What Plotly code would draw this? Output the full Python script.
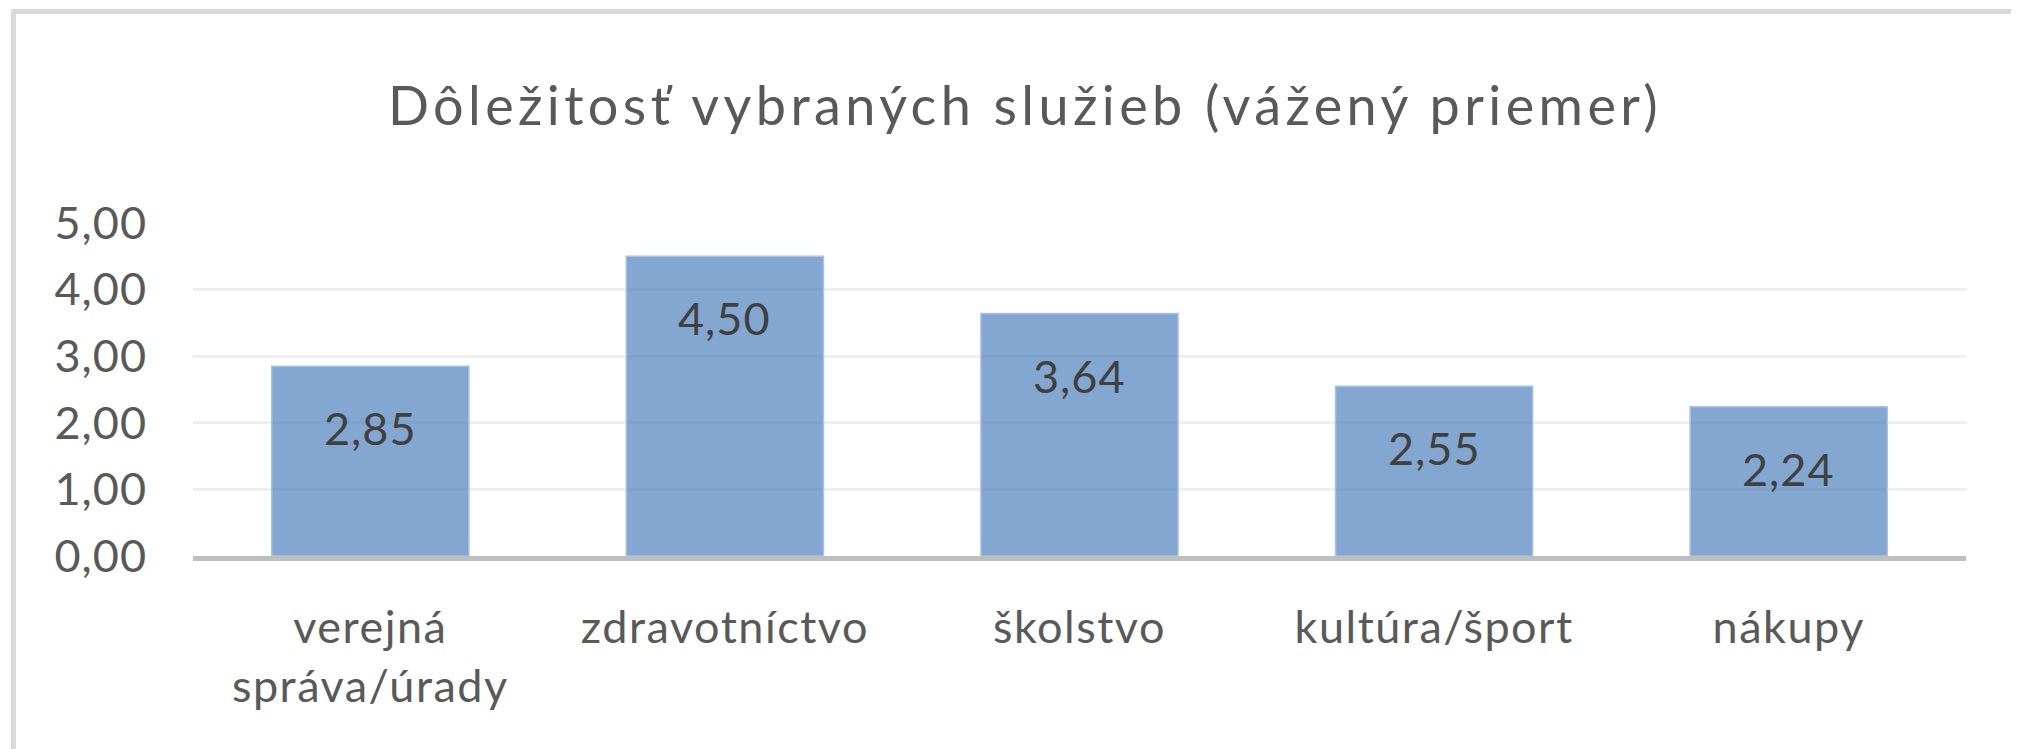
import plotly.graph_objects as go

# Importance of selected services (weighted average)
categories = ['verejná<br>správa/úrady', 'zdravotníctvo', 'školstvo', 'kultúra/šport', 'nákupy']
values = [2.85, 4.50, 3.64, 2.55, 2.24]
y_ticks = [0, 1, 2, 3, 4, 5]
y_tick_labels = ['0,00', '1,00', '2,00', '3,00', '4,00', '5,00']

W, H = 2019, 749
OFF = 8  # page body margin pushes the figure right/down
M_L, M_R, M_T, M_B = 193 - OFF, 53 + OFF, 223 - OFF, 193 + OFF
FONT = 'Lato'


def spaced(txt, px):
    return f'<span style="letter-spacing:{px}px">{txt}</span>'


fig = go.Figure()
fig.add_trace(go.Bar(
    x=categories,
    y=values,
    marker=dict(color='rgba(79,129,189,0.7)', line=dict(color='#a9c2e0', width=1.5)),
    hoverinfo='skip',
))

# data labels sit a little below each bar top
for cat, val in zip(categories, values):
    fig.add_annotation(x=cat, y=val, text=spaced(f'{val:.2f}'.replace('.', ','), 1),
                       showarrow=False, yanchor='middle', yshift=-62,
                       font=dict(family=FONT, size=45, color='#404040'))

# outer chart border (only left and top visible in the crop)
pw, ph = W - M_L - M_R, H - M_T - M_B
fig.add_shape(type='rect', xref='paper', yref='paper',
              x0=(13.5 - OFF - M_L) / pw, x1=(W + 20 - M_L) / pw,
              y0=(H - M_B - (H + 20)) / ph, y1=(H - M_B - (11.5 - OFF)) / ph,
              line=dict(color='#d9d9d9', width=5), fillcolor='rgba(0,0,0,0)', layer='below')

fig.update_layout(
    width=W, height=H,
    margin=dict(l=M_L, r=M_R, t=M_T, b=M_B, autoexpand=False),
    paper_bgcolor='white', plot_bgcolor='white',
    bargap=0.444,
    showlegend=False,
    title=dict(text=spaced('Dôležitosť vybraných služieb (vážený priemer)', 4.4),
               x=(1025 - OFF) / W, xanchor='center', y=1 - (106 - OFF) / H, yanchor='middle',
               font=dict(family=FONT, size=54, color='#595959')),
)
fig.update_yaxes(range=[0, 5], tickvals=y_ticks, ticktext=[spaced(t, 1) for t in y_tick_labels],
                 showgrid=True, gridcolor='#efefef', gridwidth=3, zeroline=False,
                 ticklabelstandoff=45, tickfont=dict(family=FONT, size=45, color='#595959'))
fig.update_xaxes(showline=True, linecolor='#bfbfbf', linewidth=5, ticks='',
                 tickvals=categories, ticktext=[spaced(c, 1.5) for c in categories],
                 ticklabelstandoff=28, tickfont=dict(family=FONT, size=45, color='#595959'))

fig.write_html('out.html')
